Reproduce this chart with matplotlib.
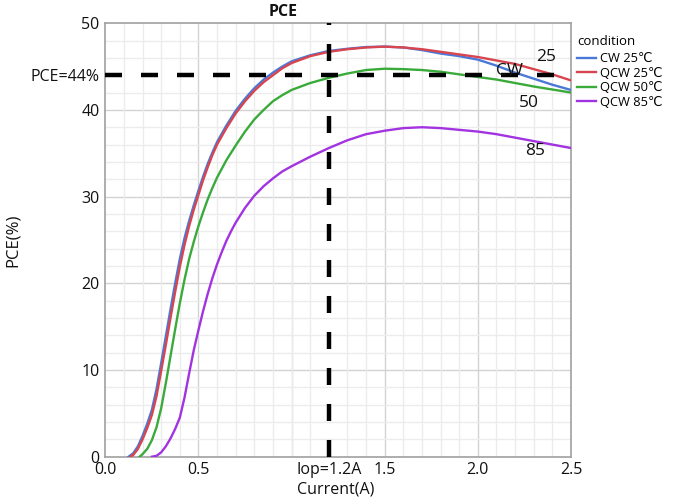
import matplotlib
matplotlib.use("Agg")
import matplotlib.pyplot as plt
from matplotlib.ticker import MultipleLocator

plt.rcParams['font.family'] = ['Open Sans', 'DejaVu Sans']

# ---------------- data ----------------
x_cw25 = [0.125, 0.15, 0.175, 0.20, 0.225, 0.25, 0.275, 0.30, 0.325, 0.35, 0.375, 0.40, 0.425,
          0.45, 0.475, 0.50, 0.525, 0.55, 0.575, 0.60, 0.65, 0.70, 0.75, 0.80, 0.85, 0.90, 0.95,
          1.00, 1.10, 1.20, 1.30, 1.40, 1.50, 1.60, 1.70, 1.80, 1.90, 2.00, 2.10, 2.20, 2.30,
          2.40, 2.50]
y_cw25 = [0.0, 0.4, 1.2, 2.4, 3.8, 5.4, 7.8, 10.8, 13.9, 17.0, 20.0, 22.8, 25.2,
          27.2, 29.0, 30.7, 32.3, 33.8, 35.1, 36.3, 38.2, 39.9, 41.3, 42.5, 43.5, 44.3, 45.0,
          45.6, 46.3, 46.8, 47.05, 47.25, 47.3, 47.2, 46.9, 46.5, 46.2, 45.8, 45.1, 44.3, 43.6,
          42.9, 42.3]

x_qcw25 = [0.135, 0.15, 0.175, 0.20, 0.225, 0.25, 0.275, 0.30, 0.325, 0.35, 0.375, 0.40, 0.425,
           0.45, 0.475, 0.50, 0.525, 0.55, 0.575, 0.60, 0.65, 0.70, 0.75, 0.80, 0.85, 0.90, 0.95,
           1.00, 1.10, 1.20, 1.30, 1.40, 1.50, 1.60, 1.70, 1.80, 1.90, 2.00, 2.10, 2.20, 2.30,
           2.40, 2.50]
y_qcw25 = [0.0, 0.2, 0.9, 2.0, 3.3, 4.8, 7.0, 9.9, 12.9, 16.0, 19.0, 21.9, 24.4,
           26.6, 28.5, 30.2, 31.9, 33.4, 34.8, 36.0, 37.9, 39.6, 41.0, 42.2, 43.2, 44.0, 44.8,
           45.4, 46.2, 46.7, 47.0, 47.2, 47.3, 47.2, 47.0, 46.7, 46.4, 46.1, 45.7, 45.3, 44.7,
           44.1, 43.4]

x_qcw50 = [0.185, 0.20, 0.225, 0.25, 0.275, 0.30, 0.325, 0.35, 0.375, 0.40, 0.425, 0.45, 0.475,
           0.50, 0.525, 0.55, 0.575, 0.60, 0.65, 0.70, 0.75, 0.80, 0.85, 0.90, 0.95, 1.00, 1.10,
           1.20, 1.30, 1.40, 1.50, 1.60, 1.70, 1.80, 1.90, 2.00, 2.10, 2.20, 2.30, 2.40, 2.50]
y_qcw50 = [0.0, 0.3, 0.9, 1.9, 3.4, 5.6, 8.5, 11.6, 14.7, 17.7, 20.4, 22.8, 24.8,
           26.6, 28.2, 29.7, 31.0, 32.2, 34.2, 35.9, 37.5, 38.9, 40.0, 41.0, 41.7, 42.3, 43.1,
           43.7, 44.2, 44.6, 44.75, 44.7, 44.6, 44.4, 44.1, 43.8, 43.5, 43.1, 42.7, 42.35, 42.0]

x_qcw85 = [0.25, 0.275, 0.30, 0.325, 0.35, 0.375, 0.40, 0.425, 0.45, 0.475, 0.50, 0.525, 0.55,
           0.575, 0.60, 0.625, 0.65, 0.675, 0.70, 0.75, 0.80, 0.85, 0.90, 0.95, 1.00, 1.10, 1.20,
           1.30, 1.40, 1.50, 1.60, 1.70, 1.80, 1.90, 2.00, 2.10, 2.20, 2.30, 2.40, 2.50]
y_qcw85 = [0.0, 0.1, 0.5, 1.2, 2.1, 3.2, 4.5, 6.8, 9.6, 12.3, 14.6, 16.8, 18.8,
           20.6, 22.2, 23.6, 24.9, 26.0, 27.0, 28.7, 30.1, 31.2, 32.1, 32.9, 33.5, 34.6, 35.6,
           36.5, 37.2, 37.6, 37.9, 38.0, 37.9, 37.7, 37.5, 37.2, 36.8, 36.4, 36.0, 35.6]

series_labels = ['CW 25℃', 'QCW 25℃', 'QCW 50℃', 'QCW 85℃']
series_colors = ['#4a78d8', '#d8454f', '#3aaa3a', '#a233e0']

iop = 1.2
pce_ref = 44
x_ticks = [0.0, 0.5, 1.2, 1.5, 2.0, 2.5]
x_ticklabels = ['0.0', '0.5', 'Iop=1.2A', '1.5', '2.0', '2.5']
y_ticks = [0, 10, 20, 30, 40, 44, 50]
y_ticklabels = ['0', '10', '20', '30', '40', 'PCE=44%', '50']

annotations = [('25', 2.365, 46.1), ('CW', 2.17, 44.5), ('50', 2.275, 40.8), ('85', 2.31, 35.3)]

# ---------------- figure ----------------
fig = plt.figure(figsize=(6.79, 5.03), dpi=100)
ax = fig.add_axes([105.3 / 679, 1 - 456.7 / 503, (571 - 105.3) / 679, (456.7 - 23.2) / 503])

ax.set_xlim(0, 2.5)
ax.set_ylim(0, 50)

ax.xaxis.set_minor_locator(MultipleLocator(0.1))
ax.yaxis.set_minor_locator(MultipleLocator(2))
ax.grid(which='minor', color='#ececec', lw=1.0, zorder=0)
ax.set_axisbelow(True)
for xv in [0.5, 1.0, 1.5, 2.0]:
    ax.axvline(xv, color='#d2d2d2', lw=1.0, zorder=0.5)
for yv in [10, 20, 30, 40]:
    ax.axhline(yv, color='#d2d2d2', lw=1.0, zorder=0.5)

for sp in ax.spines.values():
    sp.set_color('#a0a0a0')
    sp.set_linewidth(1.2)

data = [(x_cw25, y_cw25), (x_qcw25, y_qcw25), (x_qcw50, y_qcw50), (x_qcw85, y_qcw85)]
for (xs, ys), lab, col in zip(data, series_labels, series_colors):
    ax.plot(xs, ys, color=col, lw=1.7, label=lab, zorder=3, solid_joinstyle='round')

ax.plot([0, 2.5], [pce_ref, pce_ref], color='black', lw=3.2, dashes=(3.83, 4.27), zorder=4)
ax.plot([iop, iop], [0, 50], color='black', lw=3.2, dashes=(3.83, 4.27), zorder=4)

for t, xv, yv in annotations:
    ax.text(xv, yv, t, fontsize=12.5, ha='center', va='center', color='#111111', zorder=5)

ax.set_xticks(x_ticks)
ax.set_xticklabels(x_ticklabels)
ax.set_yticks(y_ticks)
ax.set_yticklabels(y_ticklabels)
ax.tick_params(axis='both', which='both', length=0, labelsize=11.5, colors='#111111')
ax.tick_params(axis='x', pad=4)
ax.tick_params(axis='y', pad=4)

fig.text(12.5 / 679, 1 - 240 / 503, 'PCE(%)', rotation=90, ha='center', va='center', fontsize=12, color='#111111')
fig.text(336 / 679, 1 - 490 / 503, 'Current(A)', ha='center', va='center', fontsize=11.5, color='#111111')
fig.text(283 / 679, 1 - 12 / 503, 'PCE', ha='center', va='center', fontsize=11.5, fontweight='bold', color='#111111')

leg = ax.legend(title='condition', loc='upper left', bbox_to_anchor=(1.002, 0.985), frameon=False,
                fontsize=9.3, title_fontsize=9.5, handlelength=1.5, handletextpad=0.3,
                labelspacing=0.12, borderaxespad=0.2, borderpad=0.2, alignment='left')
leg._legend_box.sep = 3

fig.savefig('out.png', dpi=100)
